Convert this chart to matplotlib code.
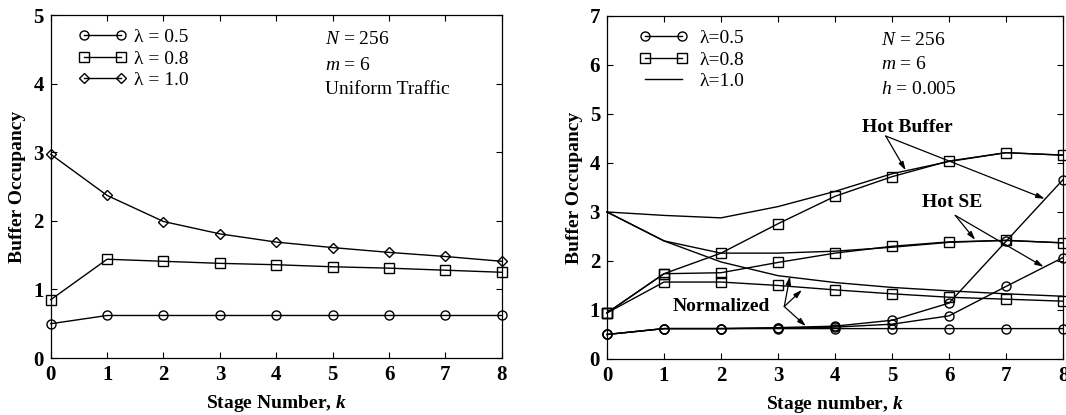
import matplotlib
matplotlib.use('Agg')
import matplotlib.pyplot as plt
from matplotlib.lines import Line2D

plt.rcParams['font.family'] = ['Liberation Serif', 'DejaVu Serif']
plt.rcParams['mathtext.fontset'] = 'custom'
plt.rcParams['mathtext.rm'] = 'Liberation Serif'
plt.rcParams['mathtext.it'] = 'Liberation Serif:italic'
plt.rcParams['mathtext.bf'] = 'Liberation Serif:bold'
plt.rcParams['mathtext.bfit'] = 'Liberation Serif:italic:bold'

stages = [0, 1, 2, 3, 4, 5, 6, 7, 8]

# uniform traffic
uni_05 = [0.50, 0.62, 0.62, 0.62, 0.62, 0.62, 0.62, 0.62, 0.62]
uni_08 = [0.85, 1.44, 1.41, 1.38, 1.36, 1.33, 1.31, 1.28, 1.25]
uni_10 = [2.97, 2.37, 1.99, 1.81, 1.69, 1.61, 1.54, 1.48, 1.41]

# hot-spot traffic, h = 0.005
hotbuf_05 = [0.50, 0.62, 0.62, 0.64, 0.67, 0.79, 1.14, 2.40, 3.66]
hotse_05 = [0.50, 0.62, 0.62, 0.63, 0.65, 0.71, 0.88, 1.48, 2.07]
norm_05 = [0.50, 0.62, 0.62, 0.62, 0.62, 0.62, 0.62, 0.62, 0.62]
hotbuf_08 = [0.94, 1.74, 2.16, 2.76, 3.32, 3.72, 4.04, 4.21, 4.16]
hotse_08 = [0.94, 1.74, 1.76, 1.97, 2.16, 2.30, 2.39, 2.42, 2.37]
norm_08 = [0.94, 1.57, 1.57, 1.50, 1.41, 1.33, 1.26, 1.22, 1.18]
hotbuf_10 = [3.00, 2.93, 2.88, 3.11, 3.42, 3.78, 4.03, 4.21, 4.16]
hotse_10 = [3.00, 2.41, 2.16, 2.16, 2.20, 2.28, 2.38, 2.42, 2.37]
norm_10 = [3.00, 2.41, 1.98, 1.70, 1.56, 1.46, 1.39, 1.33, 1.28]

FS = 14
lw = 1.0
ms = 6.5

fig = plt.figure(figsize=(10.66, 4.15), dpi=100)
ax1 = fig.add_axes([0.0476, 0.1373, 0.4231, 0.8265])
ax2 = fig.add_axes([0.5694, 0.1350, 0.4278, 0.8265])


def style(ax, ymax, xlabel):
    ax.set_xlim(0, 8)
    ax.set_ylim(0, ymax)
    ax.set_xticks(stages)
    ax.set_yticks(range(ymax + 1))
    ax.tick_params(direction='in', length=4, width=0.8, top=True, right=True,
                   labelsize=15, pad=5)
    for lab in ax.get_xticklabels() + ax.get_yticklabels():
        lab.set_fontweight('bold')
    for sp in ax.spines.values():
        sp.set_linewidth(0.9)
    ax.set_xlabel(xlabel, fontsize=FS, fontweight='bold', labelpad=6)
    ax.set_ylabel('Buffer Occupancy', fontsize=FS, fontweight='bold', labelpad=5)


kw = dict(color='black', lw=lw, markersize=ms, markerfacecolor='none',
          markeredgewidth=1.0, clip_on=False)

# left: uniform traffic
ax1.plot(stages, uni_05, marker='o', label='λ = 0.5', **kw)
ax1.plot(stages, uni_08, marker='s', label='λ = 0.8', **kw)
ax1.plot(stages, uni_10, marker='D', label='λ = 1.0',
         **{**kw, 'markersize': 5})
style(ax1, 5, r'Stage Number, $\mathbfit{k}$')
ax1.legend(loc='upper left', frameon=False, fontsize=FS, numpoints=2,
           handlelength=2.5, handletextpad=0.4, labelspacing=0.2,
           borderaxespad=0.3, bbox_to_anchor=(0.03, 1.0))
ax1.text(4.87, 4.64, '$N$ = 256', fontsize=FS, va='center')
ax1.text(4.87, 4.27, '$m$ = 6', fontsize=FS, va='center')
ax1.text(4.87, 3.91, 'Uniform Traffic', fontsize=FS, va='center')

# right: hot-spot traffic
for ys in (norm_05, hotse_05, hotbuf_05):
    ax2.plot(stages, ys, marker='o', **kw)
for ys in (norm_08, hotse_08, hotbuf_08):
    ax2.plot(stages, ys, marker='s', **kw)
for ys in (norm_10, hotse_10, hotbuf_10):
    ax2.plot(stages, ys, color='black', lw=lw, clip_on=False)
style(ax2, 7, r'Stage number, $\mathbfit{k}$')

handles = [
    Line2D([0], [0], marker='o', **kw),
    Line2D([0], [0], marker='s', **kw),
    Line2D([0], [0], color='black', lw=lw),
]
ax2.legend(handles, ['λ=0.5', 'λ=0.8', 'λ=1.0'],
           loc='upper left', frameon=False, fontsize=FS, numpoints=2,
           handlelength=2.5, handletextpad=0.6, labelspacing=0.2,
           borderaxespad=0.3, bbox_to_anchor=(0.04, 1.0))
ax2.text(4.80, 6.49, '$N$ = 256', fontsize=FS, va='center')
ax2.text(4.80, 6.00, '$m$ = 6', fontsize=FS, va='center')
ax2.text(4.80, 5.49, '$h$ = 0.005', fontsize=FS, va='center')

arrow = dict(arrowstyle='-|>,head_length=0.5,head_width=0.15',
             color='black', lw=0.9, shrinkA=0, shrinkB=0)


def callout(ax, label, pos, origin, tips):
    ax.text(pos[0], pos[1], label, fontsize=FS, fontweight='bold',
            ha='center', va='center')
    for tip in tips:
        ax.annotate('', xy=tip, xytext=origin, arrowprops=arrow)


callout(ax2, 'Hot Buffer', (5.26, 4.72), (4.89, 4.55),
        [(5.24, 3.85), (7.68, 3.27)])
callout(ax2, 'Hot SE', (6.06, 3.19), (6.11, 2.93),
        [(6.46, 2.43), (7.66, 1.88)])
callout(ax2, 'Normalized', (2.0, 1.08), (3.11, 1.07),
        [(3.21, 1.69), (3.42, 1.41), (3.49, 0.67)])

fig.savefig('out.png', dpi=100)
